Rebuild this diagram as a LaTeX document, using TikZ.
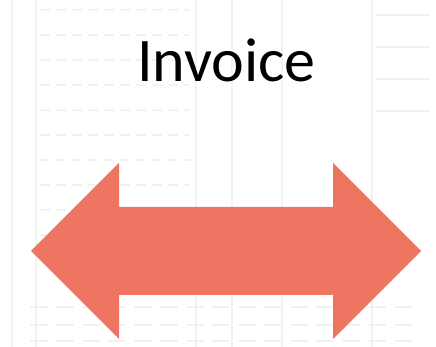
\documentclass[tikz,border=0pt]{standalone}
\usepackage{fontspec}
\setmainfont{Carlito}

\begin{document}
\begin{tikzpicture}[x=1pt, y=1pt,
every node/.style={%anchor=base,
    inner sep =0pt
    },
faint/.style={line width=1.2pt, draw=black!5},
bigarrow/.style={fill={rgb,255:red,237;green,117;blue,98}, draw=none}
]
\useasboundingbox (0,0) rectangle (436,347);
\fill[white] (0,0) rectangle (436,347);

% faded invoice behind
\foreach \x in {12, 36, 196, 232, 282, 372}
    \draw [faint] (\x,0) -- (\x,347);
\foreach \y in {337, 312, 287, 262, 237, 212, 187, 162, 137, 112}
    \draw [faint, dash pattern=on 10pt off 6pt] (40,\y) -- (190,\y);
\foreach \y in {332, 300, 268, 236}
    \draw [faint] (375,\y) -- (430,\y);
\foreach \y in {40, 22, 6}
    \draw [faint, dash pattern=on 18pt off 8pt] (30,\y) -- (420,\y);

% title
\node (title) [anchor=base, font=\fontsize{62}{70}\selectfont] at (226.5,265) {Invoice};

% double arrow
\coordinate (ltip) at (31,96);
\coordinate (rtip) at (421,96);
\fill [bigarrow] (ltip) -- (119,184) -- (119,140) -- (333,140) -- (333,184)
    -- (rtip) -- (333,8) -- (333,52) -- (119,52) -- (119,8) -- cycle;

\end{tikzpicture}
\end{document}
